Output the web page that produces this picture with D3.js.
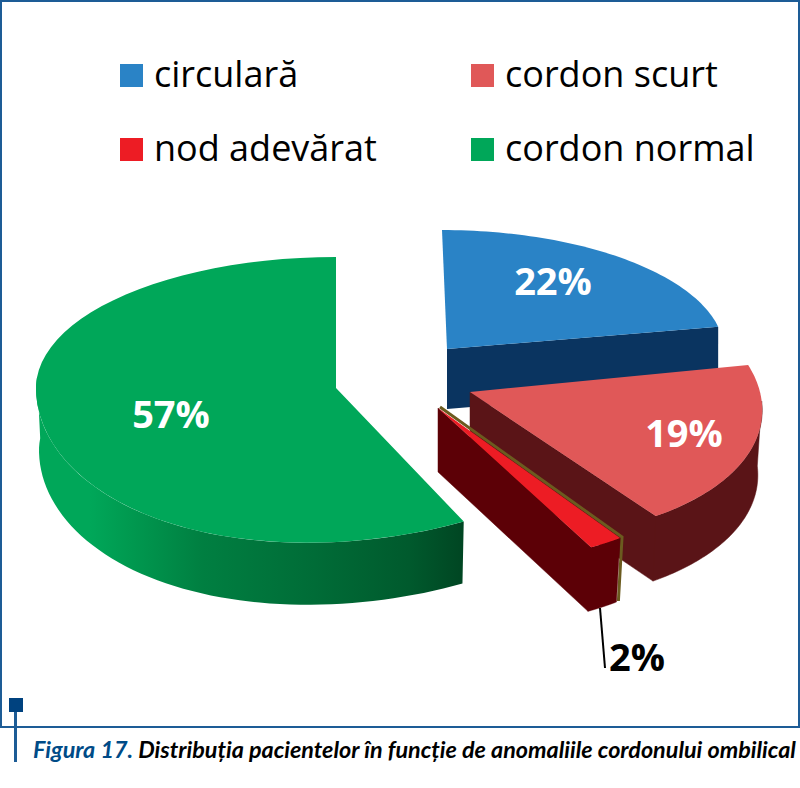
<!DOCTYPE html>
<html>
<head>
<meta charset="utf-8">
<script src="https://cdn.jsdelivr.net/npm/d3@7"></script>
<style>
    html, body { margin: 0; padding: 0; background: #fff; }
    svg { display: block; }
</style>
</head>
<body>
<script>
//chart data
var categories = ["circulară", "cordon scurt", "nod adevărat", "cordon normal"];
var values = [22, 19, 2, 57];
var figureLabel = "Figura 17.";
var captionText = "Distribuția pacientelor în funcție de anomaliile cordonului ombilical";

//colours of the top faces and of the walls, same order as categories
var topColors = ["#2a83c6", "#e05858", "#ed1c24", "#00a759"];
var wallColors = ["#0a3460", "#5a1417", "#5c0006", "#00a759"];

//how each exploded slice is drawn: apex, radii, tilt of the fake 3d
var sliceShapes = [
    {cx: 447, cy: 349, rx: 277, ryBack: 119, ryFront: 119, skew: 5, warp: 0, depth: 60, inset: 1},
    {cx: 470, cy: 392, rx: 290, ryBack: 144, ryFront: 147, skew: 36, warp: 0, depth: 65, inset: 0.985},
    {cx: 438, cy: 408, rx: 283, ryBack: 154, ryFront: 154, skew: 36, warp: 0, depth: 64, inset: 0.98},
    {cx: 336, cy: 388, rx: 300, ryBack: 131, ryFront: 154, skew: 0, warp: -15, depth: 62, inset: 0.99}
];

//where the percent labels sit
var labelSpots = [[553, 295], [684, 447], [637, 671], [171, 428]];

var width = 800,
    height = 788;

var svg = d3.select("body")
    .append("svg")
    .attr("width", width)
    .attr("height", height);

//pie layout gives the angles, clockwise from 12 o'clock
var arcs = d3.pie().sort(null).value(function(d){ return d; })(values);
var line = d3.line();

//project an angle of a slice to the page, bottom = on the lower rim
function project(shape, angle, bottom){
    var u = Math.sin(angle),
        v = -Math.cos(angle),
        ry = v < 0 ? shape.ryBack : shape.ryFront,
        x = shape.rx * u + shape.skew * v,
        y = ry * v + shape.warp * u * Math.max(v, 0);
    if (bottom) {
        return [shape.cx + x * shape.inset, shape.cy + y + shape.depth];
    }
    return [shape.cx + x, shape.cy + y];
}

function arcPoints(shape, a0, a1, bottom){
    var n = 60;
    return d3.range(n + 1).map(function(i){
        return project(shape, a0 + (a1 - a0) * i / n, bottom);
    });
}

function topFace(i){
    var s = sliceShapes[i];
    return line([[s.cx, s.cy]].concat(arcPoints(s, arcs[i].startAngle, arcs[i].endAngle, false))) + "Z";
}

//flat side running from the apex to the rim at the given angle
function cutFace(i, angle){
    var s = sliceShapes[i],
        rim = project(s, angle, false),
        rimLow = project(s, angle, true);
    return line([[s.cx, s.cy], rim, rimLow, [s.cx, s.cy + s.depth]]) + "Z";
}

function rimWall(i, a0, a1){
    var s = sliceShapes[i];
    return line(arcPoints(s, a0, a1, false).concat(arcPoints(s, a1, a0, true))) + "Z";
}

//green wall fades from the top colour to almost black green
var defs = svg.append("defs");
var greenGrad = defs.append("linearGradient")
    .attr("id", "greenWall")
    .attr("gradientUnits", "userSpaceOnUse")
    .attr("x1", 90).attr("y1", 0)
    .attr("x2", 465).attr("y2", 0);
[[0, "#00a759"], [0.1, "#009a50"], [0.3, "#007f41"], [0.6, "#006c37"], [0.85, "#005a2d"], [1, "#004522"]]
    .forEach(function(d){
        greenGrad.append("stop").attr("offset", d[0]).attr("stop-color", d[1]);
    });

//frame
svg.append("path")
    .attr("d", line([[1, 727], [1, 1], [799, 1], [799, 727]]) + "Z")
    .attr("fill", "none")
    .attr("stroke", "#1d5c96")
    .attr("stroke-width", 2);

//legend
var legendX = [120, 471],
    legendY = [64, 138];
categories.forEach(function(name, i){
    var col = i % 2,
        row = i < 2 ? 0 : 1;
    svg.append("rect")
        .attr("x", legendX[col])
        .attr("y", legendY[row])
        .attr("width", 23)
        .attr("height", 23)
        .attr("fill", topColors[i]);
    svg.append("text")
        .attr("x", legendX[col] + 34)
        .attr("y", legendY[row] + 23)
        .attr("font-family", "Open Sans")
        .attr("font-size", 36)
        .attr("fill", "#000")
        .text(name);
});

//blue slice
svg.append("path").attr("d", cutFace(0, arcs[0].endAngle)).attr("fill", wallColors[0]);
svg.append("path").attr("d", topFace(0)).attr("fill", topColors[0]);

//red slice
svg.append("path")
    .attr("d", cutFace(1, arcs[1].endAngle) + rimWall(1, arcs[1].startAngle + 0.25, arcs[1].endAngle))
    .attr("fill", wallColors[1])
    .attr("stroke", wallColors[1])
    .attr("stroke-width", 0.5);
svg.append("path").attr("d", topFace(1)).attr("fill", topColors[1]);

//small slice, with the olive edge behind it
var nod = sliceShapes[2];
svg.append("path")
    .attr("d", line([[nod.cx, nod.cy], project(nod, arcs[2].startAngle, false), project(nod, arcs[2].startAngle, true)]))
    .attr("transform", "translate(2,-1)")
    .attr("fill", "none")
    .attr("stroke", "#6b5b1f")
    .attr("stroke-width", 3);
svg.append("path")
    .attr("d", cutFace(2, arcs[2].endAngle) + rimWall(2, arcs[2].startAngle, arcs[2].endAngle))
    .attr("fill", wallColors[2])
    .attr("stroke", wallColors[2])
    .attr("stroke-width", 0.5);
svg.append("path").attr("d", topFace(2)).attr("fill", topColors[2]);

//green slice, its flat side is not shown in the picture
svg.append("path").attr("d", rimWall(3, arcs[3].startAngle, arcs[3].startAngle + 2.1)).attr("fill", "url(#greenWall)");
svg.append("path").attr("d", topFace(3)).attr("fill", topColors[3]);

//percent labels
values.forEach(function(v, i){
    svg.append("text")
        .attr("x", labelSpots[i][0])
        .attr("y", labelSpots[i][1])
        .attr("text-anchor", "middle")
        .attr("font-family", "Open Sans")
        .attr("font-weight", 700)
        .attr("font-size", 38)
        .attr("fill", i == 2 ? "#000" : "#fff")
        .text(v + "%");
});

//leader of the small slice
svg.append("path")
    .attr("d", line([[600, 608], [605, 668]]))
    .attr("stroke", "#000")
    .attr("stroke-width", 2)
    .attr("fill", "none");

//marker at the corner of the frame
svg.append("rect").attr("x", 9).attr("y", 698).attr("width", 14).attr("height", 14).attr("fill", "#00427f");
svg.append("rect").attr("x", 14).attr("y", 712).attr("width", 3).attr("height", 50).attr("fill", "#1d5c96");

//caption
var caption = svg.append("text")
    .attr("x", 33)
    .attr("y", 758)
    .attr("font-family", "Lato")
    .attr("font-style", "italic")
    .attr("font-weight", 700)
    .attr("font-size", 23.35);
caption.append("tspan").attr("fill", "#004b87").text(figureLabel + " ");
caption.append("tspan").attr("fill", "#000").text(captionText);
</script>
</body>
</html>
